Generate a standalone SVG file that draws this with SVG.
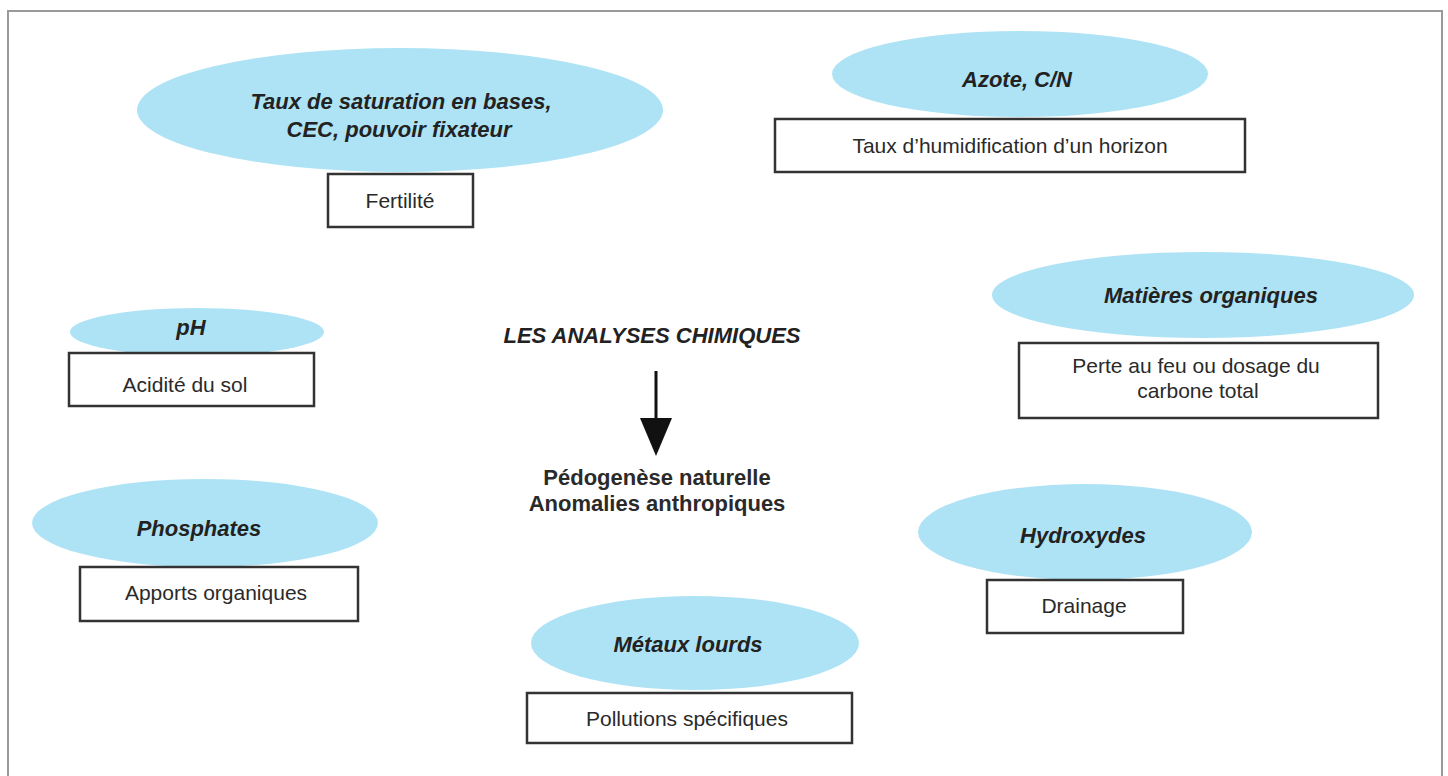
<svg xmlns="http://www.w3.org/2000/svg" width="1448" height="776" viewBox="0 0 1448 776">
  <defs>
    <style>
      .frame { fill: #ffffff; stroke: #9a9a9a; stroke-width: 2; }
      .bubble { fill: #aee3f5; stroke: none; }
      .box { fill: #ffffff; stroke: #333333; stroke-width: 2.5; }
      .head { font-family: "Liberation Sans", Arial, sans-serif; font-size: 22px; font-weight: bold; font-style: italic; fill: #222222; text-anchor: middle; }
      .label { font-family: "Liberation Sans", Arial, sans-serif; font-size: 21px; fill: #2a2a2a; text-anchor: middle; }
      .result { font-family: "Liberation Sans", Arial, sans-serif; font-size: 22px; font-weight: bold; fill: #2a2a2a; text-anchor: middle; }
      .arrow-line { stroke: #111111; stroke-width: 3; fill: none; }
      .arrow-head { fill: #111111; }
    </style>
  </defs>

  <rect width="1448" height="776" fill="#ffffff"/>
  <rect class="frame" x="8" y="11" width="1434" height="766"/>

  <!-- central title and conclusion -->
  <g id="title">
    <text class="head" x="652" y="343">LES ANALYSES CHIMIQUES</text>
  </g>
  <g id="result">
    <text class="result" x="657" y="485">Pédogenèse naturelle</text>
    <text class="result" x="657" y="511">Anomalies anthropiques</text>
  </g>

  <g id="connectors">
    <line class="arrow-line" x1="656" y1="371" x2="656" y2="420"/>
    <polygon class="arrow-head" points="640,418 672,418 656,456"/>
  </g>

  <g id="saturation">
    <ellipse class="bubble" cx="400" cy="110" rx="263" ry="62"/>
    <text class="head" x="401" y="109">Taux de saturation en bases,</text>
    <text class="head" x="399" y="137">CEC, pouvoir fixateur</text>
    <rect class="box" x="328" y="174" width="145" height="53"/>
    <text class="label" x="400" y="208">Fertilité</text>
  </g>

  <g id="azote">
    <ellipse class="bubble" cx="1020" cy="74" rx="188" ry="43"/>
    <text class="head" x="1017" y="87">Azote, C/N</text>
    <rect class="box" x="775" y="119" width="470" height="53"/>
    <text class="label" x="1010" y="153">Taux d’humidification d’un horizon</text>
  </g>

  <g id="ph">
    <ellipse class="bubble" cx="197" cy="332" rx="127" ry="24"/>
    <text class="head" x="191" y="335">pH</text>
    <rect class="box" x="69" y="353" width="245" height="53"/>
    <text class="label" x="185" y="392">Acidité du sol</text>
  </g>

  <g id="phosphates">
    <ellipse class="bubble" cx="205" cy="523" rx="173" ry="44"/>
    <text class="head" x="199" y="536">Phosphates</text>
    <rect class="box" x="80" y="567" width="278" height="54"/>
    <text class="label" x="216" y="600">Apports organiques</text>
  </g>

  <g id="matieres">
    <ellipse class="bubble" cx="1203" cy="295" rx="211" ry="43"/>
    <text class="head" x="1211" y="303">Matières organiques</text>
    <rect class="box" x="1019" y="343" width="359" height="75"/>
    <text class="label" x="1196" y="373">Perte au feu ou dosage du</text>
    <text class="label" x="1198" y="398">carbone total</text>
  </g>

  <g id="hydroxydes">
    <ellipse class="bubble" cx="1085" cy="532" rx="167" ry="48"/>
    <text class="head" x="1083" y="543">Hydroxydes</text>
    <rect class="box" x="987" y="580" width="196" height="53"/>
    <text class="label" x="1084" y="613">Drainage</text>
  </g>

  <g id="metaux">
    <ellipse class="bubble" cx="695" cy="643" rx="164" ry="47"/>
    <text class="head" x="688" y="652">Métaux lourds</text>
    <rect class="box" x="527" y="693" width="325" height="50"/>
    <text class="label" x="687" y="726">Pollutions spécifiques</text>
  </g>
</svg>
